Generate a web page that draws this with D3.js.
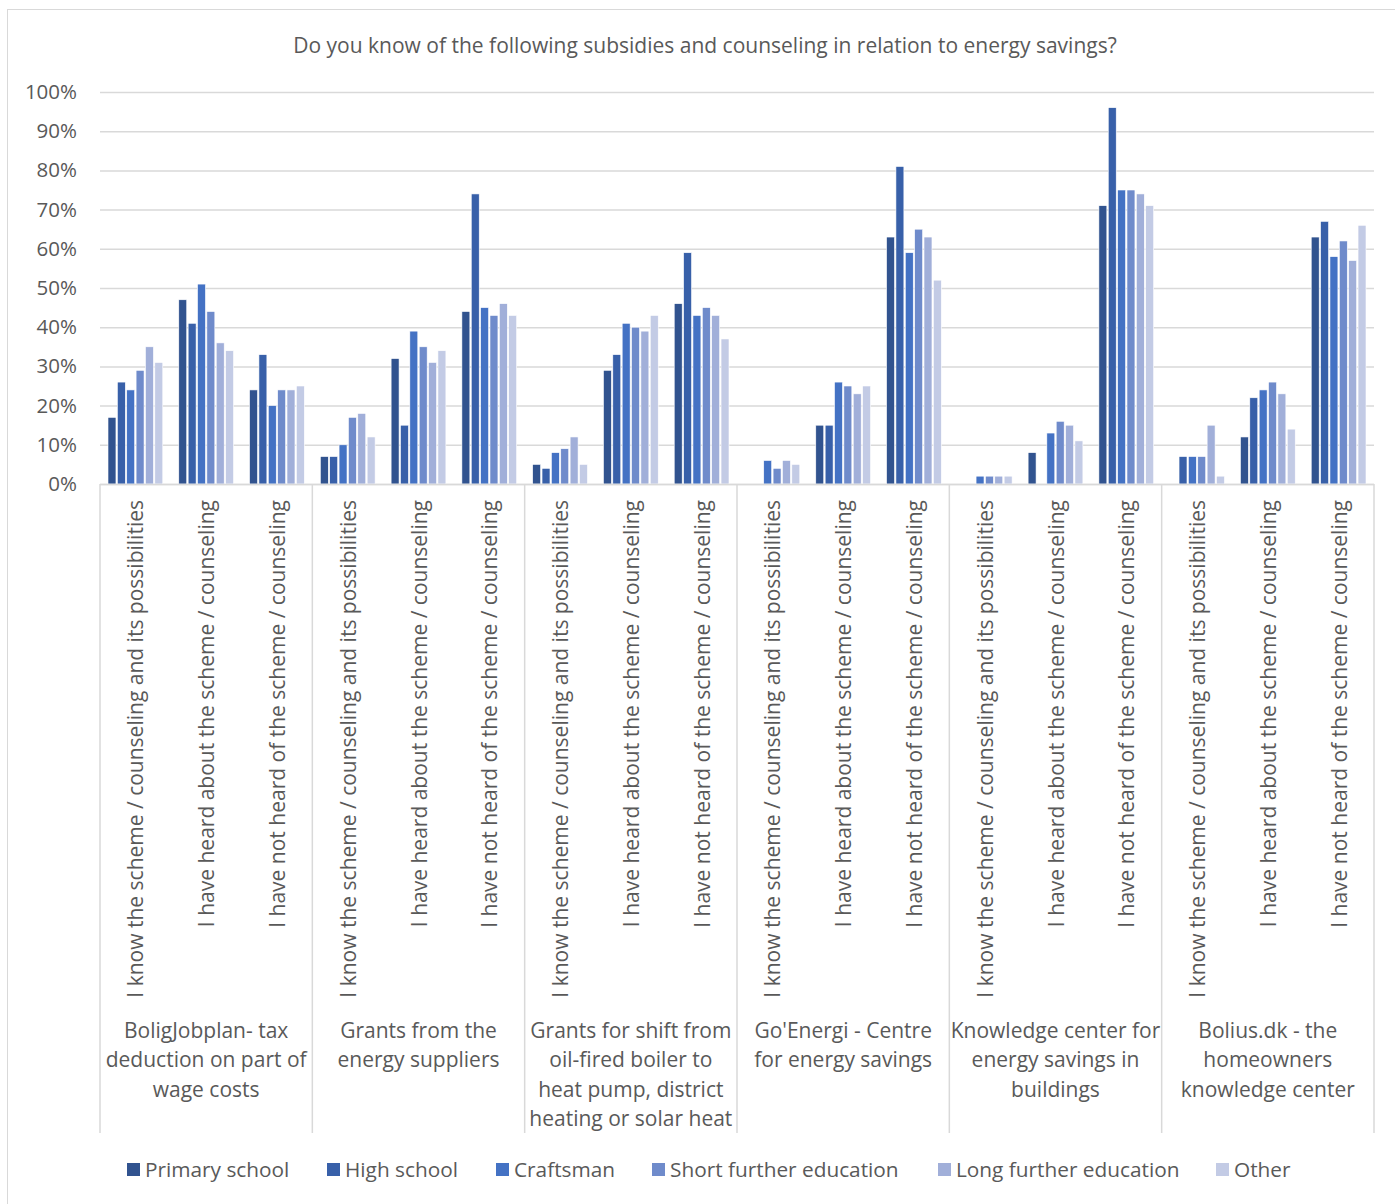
<!DOCTYPE html>
<html>
<head>
<meta charset="utf-8">
<title>Subsidies and counseling</title>
<script src="https://d3js.org/d3.v7.min.js"></script>
<style>
  body { margin: 0; background: #fff; }
  text { font-family: "Open Sans", sans-serif; fill: #595959; }
</style>
</head>
<body>
<script>
// data
var groups = [
  ["BoligJobplan- tax", "deduction on part of", "wage costs"],
  ["Grants from the", "energy suppliers"],
  ["Grants for shift from", "oil-fired boiler to", "heat pump, district", "heating or solar heat"],
  ["Go'Energi - Centre", "for energy savings"],
  ["Knowledge center for", "energy savings in", "buildings"],
  ["Bolius.dk - the", "homeowners", "knowledge center"]
];
var answers = [
  "I know the scheme / counseling and its possibilities",
  "I have heard about the scheme / counseling",
  "I have not heard of the scheme / counseling"
];
var series = ["Primary school", "High school", "Craftsman", "Short further education", "Long further education", "Other"];
var colors = ["#31538f", "#3860a9", "#4472c4", "#6f8bcb", "#a1afd9", "#c3cbe5"];

// one row per group, one array per answer, values per series (%)
var primary   = [[17,47,24],[7,32,44],[5,29,46],[0,15,63],[0,8,71],[0,12,63]];
var high      = [[26,41,33],[7,15,74],[4,33,59],[0,15,81],[0,0,96],[7,22,67]];
var craftsman = [[24,51,20],[10,39,45],[8,41,43],[6,26,59],[2,13,75],[7,24,58]];
var shortEdu  = [[29,44,24],[17,35,43],[9,40,45],[4,25,65],[2,16,75],[7,26,62]];
var longEdu   = [[35,36,24],[18,31,46],[12,39,43],[6,23,63],[2,15,74],[15,23,57]];
var other     = [[31,34,25],[12,34,43],[5,43,37],[5,25,52],[2,11,71],[2,14,66]];
var seriesValues = [primary, high, craftsman, shortEdu, longEdu, other];

var yTicks = [0,10,20,30,40,50,60,70,80,90,100];

var W = 1395, H = 1204;
var plotLeft = 100, plotRight = 1374, plotTop = 92, base = 484;

var svg = d3.select("body").append("svg").attr("width", W).attr("height", H);

// chart border
svg.append("rect").attr("x", 7.5).attr("y", 9.5).attr("width", W).attr("height", H)
  .attr("fill", "none").attr("stroke", "#d9d9d9");

svg.append("text").attr("x", 705).attr("y", 53).attr("text-anchor", "middle")
  .style("font-size", "21px")
  .text("Do you know of the following subsidies and counseling in relation to energy savings?");

var y = d3.scaleLinear().domain([0, 100]).range([base, plotTop]);
var x0 = d3.scaleBand().domain(d3.range(groups.length)).range([plotLeft, plotRight]);
var x1 = d3.scaleBand().domain(d3.range(answers.length)).range([0, x0.bandwidth()]);
var x2 = d3.scaleBand().domain(d3.range(series.length)).range([8, x1.bandwidth() - 8]).paddingInner(0.15);

// grid
svg.append("g").selectAll("line").data(yTicks).enter().append("line")
  .attr("x1", plotLeft).attr("x2", plotRight)
  .attr("y1", function(d){ return y(d) + 0.5; }).attr("y2", function(d){ return y(d) + 0.5; })
  .attr("stroke", "#d9d9d9").attr("stroke-width", 1.5);

svg.append("g").selectAll("text").data(yTicks).enter().append("text")
  .attr("x", 77).attr("y", function(d){ return y(d) + 7; })
  .attr("text-anchor", "end").style("font-size", "20.5px")
  .text(function(d){ return d + "%"; });

// bars
var g = svg.append("g").selectAll("g").data(groups).enter().append("g")
  .attr("transform", function(d, i){ return "translate(" + x0(i) + ",0)"; });

g.each(function(gd, gi) {
  var sub = d3.select(this).selectAll("g").data(answers).enter().append("g")
    .attr("transform", function(d, ai){ return "translate(" + x1(ai) + ",0)"; });
  sub.each(function(ad, ai) {
    d3.select(this).selectAll("rect").data(series).enter().append("rect")
      .attr("x", function(d, si){ return x2(si); })
      .attr("width", x2.bandwidth())
      .attr("y", function(d, si){ return y(seriesValues[si][gi][ai]); })
      .attr("height", function(d, si){ return base - y(seriesValues[si][gi][ai]); })
      .attr("fill", function(d, si){ return colors[si]; })
      .attr("stroke", function(d, si){ return seriesValues[si][gi][ai] > 0 ? "#fff" : "none"; })
      .attr("stroke-width", 0.6);
    d3.select(this).append("text")
      .attr("transform", "translate(" + (x1.bandwidth() / 2 + 8) + ",500) rotate(-90)")
      .attr("text-anchor", "end").style("font-size", "21px")
      .text(ad);
  });
  d3.select(this).append("text").attr("text-anchor", "middle")
    .style("font-size", "21px")
    .selectAll("tspan").data(gd).enter().append("tspan")
    .attr("x", x0.bandwidth() / 2).attr("y", function(d, li){ return 1038 + li * 29.3; })
    .text(function(d){ return d; });
});

// axis line and group separators
svg.append("line").attr("x1", plotLeft).attr("x2", plotRight).attr("y1", base + 0.5).attr("y2", base + 0.5)
  .attr("stroke", "#d9d9d9").attr("stroke-width", 1.5);
svg.append("g").selectAll("line").data(d3.range(groups.length + 1)).enter().append("line")
  .attr("x1", function(i){ return plotLeft + i * x0.bandwidth(); })
  .attr("x2", function(i){ return plotLeft + i * x0.bandwidth(); })
  .attr("y1", base).attr("y2", 1133)
  .attr("stroke", "#d9d9d9").attr("stroke-width", 1.5);

// legend
var legendX = [127, 327, 496, 652, 938, 1216];
var lg = svg.append("g").selectAll("g").data(series).enter().append("g")
  .attr("transform", function(d, i){ return "translate(" + legendX[i] + ",1163)"; });
lg.append("rect").attr("width", 13).attr("height", 13)
  .attr("fill", function(d, i){ return colors[i]; });
lg.append("text").attr("x", 18).attr("y", 14).style("font-size", "20.8px")
  .text(function(d){ return d; });
</script>
</body>
</html>
